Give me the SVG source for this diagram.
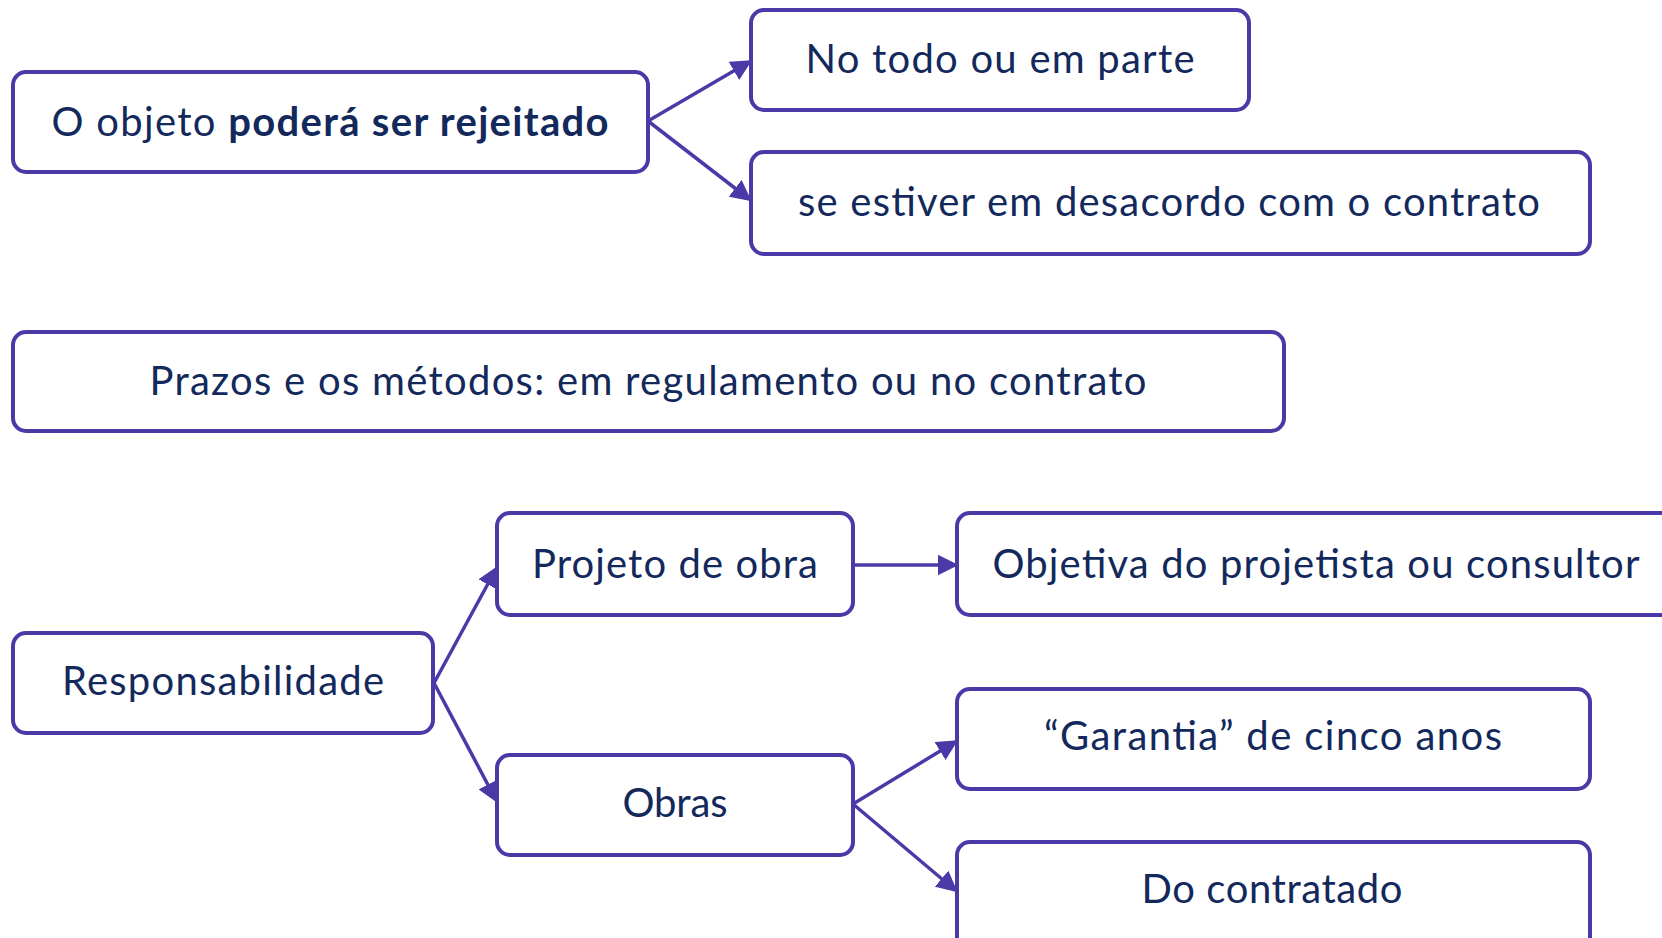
<svg xmlns="http://www.w3.org/2000/svg" width="1662" height="938" viewBox="0 0 1662 938">
<style>
.box{fill:#ffffff;stroke:#4a3aa8;stroke-width:4}
.t{font-family:Lato,"Open Sans","Liberation Sans",sans-serif;font-size:40px;fill:#13295c;text-anchor:middle}
.b{font-weight:bold}
.c{stroke:#4a3aa8;stroke-width:3.5;fill:none}
</style>
<defs>
<marker id="ah" markerWidth="6" markerHeight="6" refX="5" refY="3" orient="auto" markerUnits="strokeWidth">
<path d="M0,0 L6,3 L0,6 z" fill="#4a3aa8"/>
</marker>
</defs>
<rect width="1662" height="938" fill="#ffffff"/>
<g id="connectors">
<line class="c" x1="648" y1="121" x2="749" y2="62" marker-end="url(#ah)"/>
<line class="c" x1="648" y1="121" x2="749" y2="199" marker-end="url(#ah)"/>
<line class="c" x1="434" y1="683" x2="496" y2="569" marker-end="url(#ah)"/>
<line class="c" x1="434" y1="683" x2="496" y2="800" marker-end="url(#ah)"/>
<line class="c" x1="853" y1="565" x2="955" y2="565" marker-end="url(#ah)"/>
<line class="c" x1="853" y1="804" x2="955" y2="742" marker-end="url(#ah)"/>
<line class="c" x1="853" y1="804" x2="955" y2="890" marker-end="url(#ah)"/>
</g>
<g id="n1">
<rect class="box" x="13" y="72" width="635" height="100" rx="13"/>
<text class="t" x="330" y="136" textLength="557"><tspan>O objeto </tspan><tspan class="b">poderá ser rejeitado</tspan></text>
</g>
<g id="n2">
<rect class="box" x="751" y="10" width="498" height="100" rx="13"/>
<text class="t" x="1000" y="73" textLength="389">No todo ou em parte</text>
</g>
<g id="n3">
<rect class="box" x="751" y="152" width="839" height="102" rx="13"/>
<text class="t" x="1169" y="216" textLength="742">se estiver em desacordo com o contrato</text>
</g>
<g id="n4">
<rect class="box" x="13" y="332" width="1271" height="99" rx="13"/>
<text class="t" x="648" y="395" textLength="997">Prazos e os métodos: em regulamento ou no contrato</text>
</g>
<g id="n5">
<rect class="box" x="497" y="513" width="356" height="102" rx="13"/>
<text class="t" x="675" y="578" textLength="286">Projeto de obra</text>
</g>
<g id="n6">
<rect class="box" x="957" y="513" width="740" height="102" rx="13"/>
<text class="t" x="1316" y="578" textLength="647">Objetiva do projetista ou consultor</text>
</g>
<g id="n7">
<rect class="box" x="13" y="633" width="420" height="100" rx="13"/>
<text class="t" x="223" y="695" textLength="322">Responsabilidade</text>
</g>
<g id="n8">
<rect class="box" x="497" y="755" width="356" height="100" rx="13"/>
<text class="t" x="675" y="817" textLength="105">Obras</text>
</g>
<g id="n9">
<rect class="box" x="957" y="689" width="633" height="100" rx="13"/>
<text class="t" x="1273" y="750" textLength="458">“Garantia” de cinco anos</text>
</g>
<g id="n10">
<rect class="box" x="957" y="842" width="633" height="120" rx="13"/>
<text class="t" x="1272" y="903" textLength="261">Do contratado</text>
</g>
</svg>
